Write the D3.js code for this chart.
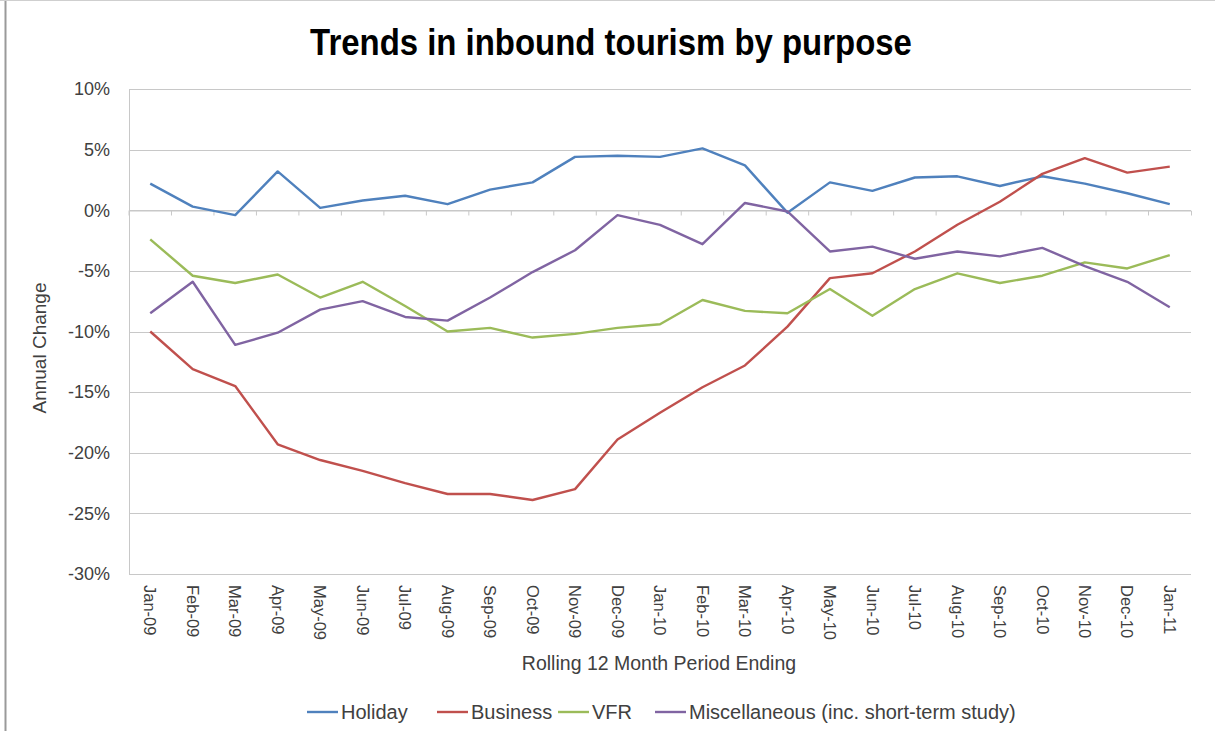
<!DOCTYPE html>
<html>
<head>
<meta charset="utf-8">
<script src="https://cdn.jsdelivr.net/npm/d3@7"></script>
<style>
	body { margin: 0; background: #fff; }
	svg { display: block; }
	.narrow { font-family: "Liberation Sans Narrow", "Arial Narrow", "Liberation Sans", Arial, sans-serif; }
</style>
</head>
<body>
<div id="chart"></div>
<script>
// rolling 12 month period ending
const months = ["Jan-09","Feb-09","Mar-09","Apr-09","May-09","Jun-09","Jul-09","Aug-09","Sep-09","Oct-09","Nov-09","Dec-09",
	"Jan-10","Feb-10","Mar-10","Apr-10","May-10","Jun-10","Jul-10","Aug-10","Sep-10","Oct-10","Nov-10","Dec-10","Jan-11"];

// annual change, %
const holiday = [2.2, 0.3, -0.4, 3.2, 0.2, 0.8, 1.2, 0.5, 1.7, 2.3, 4.4, 4.5, 4.4, 5.1, 3.7, -0.2, 2.3, 1.6, 2.7, 2.8, 2.0, 2.8, 2.2, 1.4, 0.5];
const business = [-10.0, -13.1, -14.5, -19.3, -20.6, -21.5, -22.5, -23.4, -23.4, -23.9, -23.0, -18.9, -16.7, -14.6, -12.8, -9.6, -5.6, -5.2, -3.4, -1.2, 0.7, 3.0, 4.3, 3.1, 3.6];
const vfr = [-2.4, -5.4, -6.0, -5.3, -7.2, -5.9, -7.9, -10.0, -9.7, -10.5, -10.2, -9.7, -9.4, -7.4, -8.3, -8.5, -6.5, -8.7, -6.5, -5.2, -6.0, -5.4, -4.3, -4.8, -3.7];
const misc = [-8.5, -5.9, -11.1, -10.1, -8.2, -7.5, -8.8, -9.1, -7.2, -5.1, -3.3, -0.4, -1.2, -2.8, 0.6, -0.1, -3.4, -3.0, -4.0, -3.4, -3.8, -3.1, -4.6, -5.9, -8.0];

const yTicks = [10, 5, 0, -5, -10, -15, -20, -25, -30];

const seriesNames = ["Holiday", "Business", "VFR", "Miscellaneous (inc. short-term study)"];
const seriesColors = ["#4F81BD", "#C0504D", "#9BBB59", "#8064A2"];

const width = 1215, height = 731;
const margin = {top: 89, right: 24, bottom: 157, left: 129};

const svg = d3.select("#chart").append("svg")
	.attr("width", width)
	.attr("height", height);

//chart area border (left and top edge visible)
svg.append("line").attr("x1", 5.5).attr("x2", 5.5).attr("y1", 0).attr("y2", height).attr("stroke", "#9a9a9a").attr("stroke-width", 2);
svg.append("line").attr("x1", 0).attr("x2", width).attr("y1", 0.5).attr("y2", 0.5).attr("stroke", "#cfcfcf");

const x = d3.scaleBand()
	.domain(months)
	.range([margin.left, width - margin.right]);

const y = d3.scaleLinear()
	.domain([-30, 10])
	.range([height - margin.bottom, margin.top]);

//horizontal gridlines
svg.append("g")
	.selectAll("line")
	.data(yTicks)
	.enter().append("line")
	.attr("x1", margin.left)
	.attr("x2", width - margin.right)
	.attr("y1", d => Math.round(y(d)) + 0.5)
	.attr("y2", d => Math.round(y(d)) + 0.5)
	.attr("stroke", "#c8c8c8")
	.attr("stroke-width", 1.2);

//value axis line
svg.append("line")
	.attr("x1", margin.left + 0.5).attr("x2", margin.left + 0.5)
	.attr("y1", y(10)).attr("y2", y(-30))
	.attr("stroke", "#c8c8c8");

//y tick labels
svg.append("g")
	.selectAll("text")
	.data(yTicks)
	.enter().append("text")
	.attr("class", "narrow")
	.attr("x", margin.left - 19)
	.attr("y", d => y(d))
	.attr("dy", "0.35em")
	.attr("text-anchor", "end")
	.attr("font-size", "18px")
	.attr("fill", "#404040")
	.text(d => d + "%");

//category axis sits on 0%, tick marks pointing down
const xAxis = svg.append("g")
	.attr("transform", "translate(0," + (Math.round(y(0)) + 0.5) + ")")
	.call(d3.axisBottom(x).tickSize(5).tickFormat(""));
xAxis.select(".domain").attr("stroke", "#c8c8c8");
xAxis.selectAll(".tick line")
	.attr("stroke", "#c8c8c8")
	.attr("transform", d => "translate(" + (-x.bandwidth() / 2) + ",0)");

//category labels at the bottom, rotated
svg.append("g")
	.selectAll("text")
	.data(months)
	.enter().append("text")
	.attr("class", "narrow")
	.attr("transform", d => "translate(" + (x(d) + x.bandwidth() / 2) + "," + (y(-30) + 11) + ") rotate(90)")
	.attr("dy", "0.35em")
	.attr("text-anchor", "start")
	.attr("font-size", "16.5px")
	.attr("fill", "#404040")
	.text(d => d);

//lines
const allSeries = [holiday, business, vfr, misc];
const line = d3.line()
	.x((d, i) => x(months[i]) + x.bandwidth() / 2)
	.y(d => y(d));

svg.append("g")
	.selectAll("path")
	.data(allSeries)
	.enter().append("path")
	.attr("d", line)
	.attr("fill", "none")
	.attr("stroke", (d, i) => seriesColors[i])
	.attr("stroke-width", 2.4)
	.attr("stroke-linejoin", "round");

//title (condensed to look like a narrow face)
svg.append("text")
	.attr("class", "narrow")
	.attr("transform", "translate(611,55) scale(0.89,1)")
	.attr("text-anchor", "middle")
	.attr("font-size", "37px")
	.attr("font-weight", "bold")
	.attr("fill", "#000")
	.text("Trends in inbound tourism by purpose");

//axis titles
svg.append("text")
	.attr("class", "narrow")
	.attr("x", 659)
	.attr("y", 670)
	.attr("text-anchor", "middle")
	.attr("font-size", "19.5px")
	.attr("fill", "#404040")
	.text("Rolling 12 Month Period Ending");

svg.append("text")
	.attr("class", "narrow")
	.attr("transform", "translate(46,348) rotate(-90)")
	.attr("text-anchor", "middle")
	.attr("font-size", "19px")
	.attr("fill", "#404040")
	.text("Annual Change");

//legend
const legendX = [307, 437, 558, 655];
const legend = svg.append("g")
	.selectAll("g")
	.data(seriesNames)
	.enter().append("g")
	.attr("transform", (d, i) => "translate(" + legendX[i] + ",712)");

legend.append("line")
	.attr("x1", 0).attr("x2", 31)
	.attr("stroke", (d, i) => seriesColors[i])
	.attr("stroke-width", 2.4);

legend.append("text")
	.attr("class", "narrow")
	.attr("x", 34)
	.attr("dy", "0.35em")
	.attr("font-size", "20px")
	.attr("fill", "#404040")
	.text(d => d);
</script>
</body>
</html>
